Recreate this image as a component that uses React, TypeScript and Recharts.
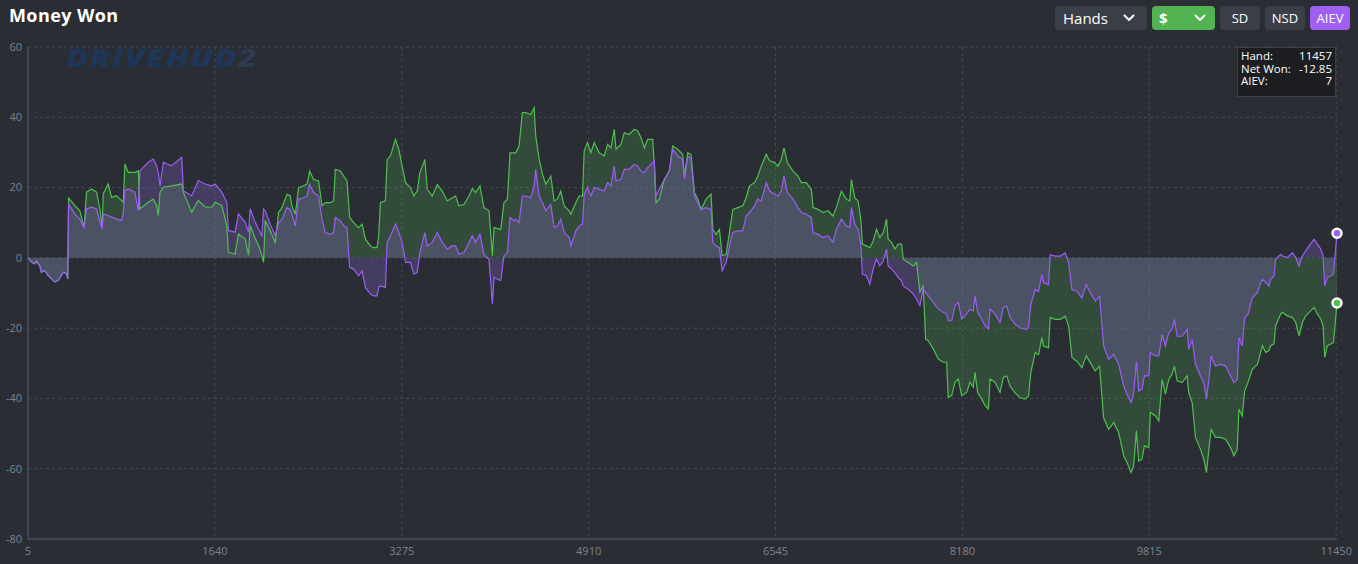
import React from "react";
import { ComposedChart, Area, Line, XAxis, YAxis, CartesianGrid } from "recharts";

// ── Data ─────────────────────────────────────────────────────────────────────

const hands = [
  5, 35, 64, 79, 108, 122, 151, 180, 210, 239,
  268, 298, 312, 342, 353, 360, 414, 458, 496, 517,
  561, 605, 634, 654, 663, 707, 736, 780, 824, 838,
  853, 882, 940, 970, 984, 1057, 1101, 1130, 1145, 1160,
  1189, 1262, 1350, 1364, 1437, 1495, 1554, 1613, 1642, 1700,
  1744, 1758, 1817, 1846, 1905, 1934, 1949, 1993, 2022, 2051,
  2066, 2080, 2124, 2168, 2197, 2227, 2270, 2299, 2314, 2343,
  2372, 2416, 2446, 2469, 2504, 2547, 2577, 2606, 2650, 2679,
  2694, 2738, 2767, 2796, 2819, 2854, 2898, 2928, 2957, 3001,
  3030, 3059, 3073, 3088, 3132, 3147, 3176, 3220, 3249, 3278,
  3308, 3351, 3380, 3410, 3433, 3477, 3498, 3542, 3585, 3629,
  3673, 3717, 3746, 3775, 3819, 3863, 3892, 3921, 3959, 3994,
  4038, 4068, 4082, 4141, 4169, 4199, 4222, 4257, 4272, 4301,
  4330, 4360, 4403, 4433, 4447, 4477, 4506, 4535, 4579, 4608,
  4637, 4666, 4696, 4740, 4754, 4798, 4827, 4856, 4871, 4900,
  4929, 4959, 5002, 5046, 5076, 5105, 5134, 5149, 5192, 5222,
  5265, 5309, 5339, 5368, 5397, 5426, 5470, 5485, 5499, 5528,
  5572, 5616, 5645, 5689, 5733, 5748, 5777, 5806, 5835, 5865,
  5894, 5938, 5981, 5996, 6025, 6054, 6078, 6113, 6142, 6171,
  6215, 6259, 6288, 6317, 6361, 6390, 6420, 6464, 6493, 6537,
  6566, 6595, 6619, 6648, 6698, 6741, 6771, 6814, 6858, 6873,
  6917, 6961, 7004, 7048, 7077, 7121, 7165, 7194, 7209, 7238,
  7267, 7291, 7305, 7340, 7370, 7399, 7428, 7457, 7487, 7516,
  7530, 7560, 7589, 7618, 7647, 7662, 7706, 7750, 7779, 7808,
  7837, 7858, 7881, 7925, 7969, 8012, 8042, 8056, 8086, 8115,
  8144, 8173, 8217, 8246, 8275, 8290, 8313, 8348, 8378, 8407,
  8422, 8465, 8509, 8538, 8568, 8597, 8641, 8685, 8729, 8758,
  8778, 8816, 8846, 8875, 8889, 8933, 8948, 8992, 9036, 9079,
  9109, 9138, 9182, 9225, 9263, 9299, 9342, 9380, 9415, 9459,
  9503, 9547, 9591, 9620, 9655, 9678, 9702, 9722, 9751, 9772,
  9810, 9824, 9868, 9898, 9927, 9956, 9985, 10014, 10035, 10058,
  10102, 10146, 10160, 10190, 10219, 10263, 10292, 10315, 10336, 10356,
  10394, 10438, 10482, 10526, 10555, 10584, 10599, 10628, 10649, 10678,
  10716, 10760, 10774, 10804, 10833, 10862, 10877, 10906, 10920, 10964,
  10979, 11023, 11067, 11096, 11125, 11154, 11183, 11213, 11256, 11286,
  11315, 11335, 11350, 11373, 11403, 11426, 11457,
];

// Net Won ($) – green
const netWon = [
  0, -1.2, -1.7, -1.0, -2.2, -4.1, -3.6, -5.0, -6.0, -6.9,
  -6.4, -5.0, -4.1, -4.5, -6.0, 17.0, 14.9, 13.4, 8.7, 18.7,
  19.6, 18.7, 13.9, 8.7, 18.2, 21.0, 17.2, 17.7, 16.3, 15.8,
  26.7, 24.3, 24.3, 24.8, 13.9, 15.8, 16.7, 14.9, 12.0, 18.7,
  20.1, 20.5, 21.0, 18.7, 13.0, 16.3, 14.5, 14.4, 15.8, 14.9,
  9.2, 1.6, 1.1, 6.8, 5.4, 0.7, 9.2, 5.4, 3.5, 0.7,
  -1.3, 10.6, 7.7, 4.4, 12.9, 14.3, 18.1, 17.6, 14.8, 12.4,
  20.0, 20.5, 21.0, 24.7, 22.3, 21.9, 14.8, 15.7, 15.7, 16.2,
  25.2, 24.7, 23.3, 21.9, 11.5, 10.0, 8.6, 9.6, 5.3, 3.4,
  2.9, 2.9, 6.3, 15.7, 16.2, 28.0, 29.0, 33.7, 30.9, 26.1,
  21.4, 20.0, 17.6, 19.0, 24.2, 28.0, 19.5, 17.6, 20.9, 19.0,
  16.2, 17.1, 17.6, 14.8, 15.2, 17.6, 19.7, 18.6, 20.5, 14.3,
  13.4, 0.6, 8.6, 8.1, 15.7, 16.7, 29.9, 29.9, 29.9, 31.8,
  41.3, 41.3, 40.8, 42.7, 34.7, 28.0, 23.8, 20.9, 23.3, 16.2,
  16.7, 19.0, 14.8, 13.4, 12.4, 15.7, 17.6, 17.6, 30.4, 32.8,
  29.9, 32.8, 29.9, 29.0, 32.3, 31.3, 36.6, 30.9, 32.3, 35.6,
  35.1, 36.6, 36.1, 34.2, 31.3, 33.7, 33.7, 26.1, 15.7, 16.7,
  22.3, 24.7, 31.8, 30.9, 29.4, 23.3, 29.9, 29.4, 18.6, 16.7,
  13.8, 16.7, 18.1, 8.1, 6.7, 8.1, 0.6, 1.0, 7.2, 13.8,
  14.3, 14.8, 17.1, 20.5, 21.4, 23.3, 26.1, 29.5, 27.6, 27.1,
  26.1, 28.0, 31.3, 27.1, 24.7, 23.3, 21.4, 21.4, 19.5, 14.3,
  13.8, 12.9, 13.4, 11.9, 14.3, 19.0, 16.7, 16.2, 22.3, 17.1,
  16.2, 11.0, 3.9, 3.4, 2.9, 4.8, 8.1, 5.8, 7.2, 11.0,
  5.3, 4.4, 2.5, 3.9, 3.9, -0.4, -1.3, -2.3, -1.3, -9.8,
  -8.0, -23.1, -23.6, -25.9, -28.8, -29.7, -29.7, -39.7, -39.2, -35.4,
  -34.5, -39.2, -38.3, -35.4, -36.8, -32.6, -38.3, -40.2, -42.0, -43.0,
  -34.5, -35.4, -38.3, -34.0, -33.6, -36.5, -38.4, -39.8, -40.2, -39.3,
  -32.7, -27.0, -27.5, -22.7, -25.1, -25.6, -17.0, -17.5, -17.5, -16.6,
  -19.4, -28.4, -29.4, -31.3, -27.9, -29.8, -32.2, -30.8, -45.5, -48.8,
  -46.9, -49.7, -56.3, -58.2, -61.1, -59.2, -49.2, -57.8, -57.3, -53.5,
  -54.0, -44.0, -45.0, -46.4, -34.6, -38.8, -34.6, -33.1, -30.8, -35.0,
  -35.5, -33.6, -38.4, -41.2, -51.1, -54.5, -57.3, -61.1, -54.5, -48.8,
  -51.1, -51.1, -51.6, -54.0, -56.3, -54.5, -43.1, -45.0, -37.9, -35.5,
  -31.7, -30.3, -28.8, -25.0, -26.9, -26.4, -25.0, -24.5, -19.3, -16.0,
  -15.5, -16.5, -17.0, -18.4, -22.2, -18.4, -16.5, -15.5, -14.1, -16.0,
  -17.4, -19.3, -28.3, -25.0, -24.5, -24.1, -12.85,
];

// All-in EV – purple
const aiev = [
  0, -1.2, -1.7, -1.0, -2.2, -4.1, -3.6, -5.0, -6.0, -6.9,
  -6.4, -5.0, -4.1, -4.5, -6.0, 15.3, 12.5, 11.0, 8.7, 13.9,
  14.4, 13.9, 10.1, 8.2, 12.5, 12.0, 11.6, 11.1, 10.6, 12.5,
  19.1, 19.6, 18.7, 13.4, 24.8, 27.2, 28.1, 26.2, 24.3, 20.5,
  27.2, 26.2, 28.6, 19.1, 17.7, 22.0, 21.0, 20.5, 21.0, 18.7,
  15.8, 7.8, 7.3, 12.5, 10.1, 7.3, 13.9, 10.1, 8.2, 6.3,
  13.9, 13.4, 9.6, 6.3, 10.0, 11.0, 14.3, 13.8, 12.4, 9.1,
  16.7, 17.1, 17.6, 20.9, 18.6, 17.6, 11.0, 7.2, 6.7, 7.2,
  11.5, 10.5, 9.1, 8.6, -2.7, -3.2, -5.1, -3.7, -8.4, -10.3,
  -10.8, -10.8, -8.4, -8.0, -8.4, 4.4, 6.3, 9.6, 7.2, 4.4,
  -1.3, -1.3, -4.6, -4.2, 1.5, 7.2, 3.4, 4.4, 7.2, 4.4,
  2.5, 3.4, 3.4, 1.0, 1.5, 4.4, 6.3, 4.4, 6.7, 1.0,
  -0.4, -13.2, -5.6, -6.5, 0.6, 1.5, 11.5, 10.5, 11.0, 10.0,
  17.6, 17.6, 17.1, 20.5, 25.2, 17.6, 15.7, 13.4, 15.2, 8.6,
  9.1, 11.0, 7.2, 5.8, 3.4, 7.7, 9.1, 9.6, 18.1, 20.0,
  17.6, 20.0, 19.5, 19.0, 21.4, 20.5, 26.1, 21.9, 22.3, 25.2,
  25.2, 26.6, 26.1, 24.7, 24.2, 25.7, 27.1, 27.6, 17.6, 19.5,
  22.3, 24.7, 30.9, 29.0, 28.0, 22.3, 29.0, 28.0, 17.6, 15.7,
  13.8, 14.3, 13.8, 4.4, 3.4, 2.9, -3.7, -1.3, 3.4, 7.2,
  7.7, 7.7, 11.9, 12.9, 14.8, 16.7, 16.2, 21.4, 19.0, 18.1,
  17.6, 19.0, 23.3, 18.6, 16.7, 14.3, 12.9, 12.4, 11.5, 7.2,
  6.7, 5.8, 6.3, 4.4, 8.1, 11.0, 9.1, 8.6, 14.3, 9.6,
  8.1, 3.9, -4.6, -5.1, -7.5, -3.2, -0.4, -2.3, -0.9, 2.5,
  -2.3, -3.2, -4.2, -5.6, -6.5, -8.0, -8.9, -10.3, -11.7, -13.6,
  -8.9, -9.8, -10.8, -12.7, -14.6, -15.5, -16.0, -17.9, -17.9, -13.6,
  -12.7, -17.4, -16.0, -14.6, -15.1, -10.8, -15.5, -17.4, -19.3, -20.3,
  -14.6, -16.0, -18.4, -14.1, -13.7, -17.0, -18.9, -19.9, -20.4, -19.9,
  -13.3, -9.0, -9.5, -4.7, -7.1, -7.6, 0.9, 0.5, 0.5, 1.4,
  -1.4, -9.0, -9.5, -11.4, -7.6, -9.9, -12.3, -10.9, -25.1, -28.9,
  -27.5, -30.3, -36.5, -38.8, -41.2, -38.8, -29.4, -37.9, -37.4, -33.6,
  -33.6, -27.0, -27.9, -27.9, -21.8, -25.1, -21.3, -20.4, -17.5, -22.3,
  -22.3, -20.4, -26.0, -23.2, -30.3, -33.6, -35.5, -40.2, -34.6, -27.9,
  -30.8, -30.3, -30.8, -33.6, -35.5, -34.6, -22.7, -25.1, -17.0, -16.1,
  -11.4, -9.9, -8.4, -6.1, -7.0, -8.0, -6.1, -5.1, -0.4, 1.0,
  0.6, 0.1, 1.5, 0.1, -2.3, 0.6, 2.0, 3.4, 5.3, 3.9,
  2.5, 0.6, -8.0, -5.6, -5.1, -4.6, 7,
];

const xTicks = [5, 1640, 3275, 4910, 6545, 8180, 9815, 11450];
const yTicks = [-80, -60, -40, -20, 0, 20, 40, 60];

// ── Styles ───────────────────────────────────────────────────────────────────

const BG = "#2a2d33";
const GREEN = "#4fc04f";
const PURPLE = "#9d5cf5";
const FONT = "'Open Sans', 'Noto Sans', sans-serif";

const data = hands.map((h, i) => ({ hand: h, net: netWon[i], aiev: aiev[i] }));
const lastIdx = hands.length - 1;

function endDot(color: string) {
  return (props: { cx?: number; cy?: number; index?: number }) => {
    if (props.index !== lastIdx) return <g key={`d-${props.index}`} />;
    return (
      <circle key={`d-${props.index}`} cx={props.cx} cy={props.cy} r={4.5}
        fill={color} stroke="#ffffff" strokeWidth={2.5} />
    );
  };
}

function Chevron({ x }: { x: number }) {
  return (
    <svg width={12} height={8} style={{ position: "absolute", left: x, top: 8 }}>
      <polyline points="1.5,1.5 6,6 10.5,1.5" fill="none" stroke="#fff" strokeWidth={2} strokeLinecap="round" strokeLinejoin="round" />
    </svg>
  );
}

const btn: React.CSSProperties = {
  position: "absolute", top: 6, height: 24, borderRadius: 4, background: "#3a3e46",
  color: "#fff", fontSize: 13, lineHeight: "24px", textAlign: "center", boxSizing: "border-box",
};

// ── Component ────────────────────────────────────────────────────────────────

export default function App() {
  return (
    <div style={{ position: "fixed", left: 0, top: 0, width: 1358, height: 564, background: BG, fontFamily: FONT, overflow: "hidden" }}>
      <div style={{ position: "absolute", left: 9, top: 3, fontSize: 18, fontWeight: 700, color: "#fff", letterSpacing: 0.4 }}>
        Money Won
      </div>

      {/* toolbar */}
      <div style={{ ...btn, left: 1055, width: 92, textAlign: "left", paddingLeft: 8, fontSize: 15, fontWeight: 500 }}>
        Hands
        <Chevron x={68} />
      </div>
      <div style={{ ...btn, left: 1152, width: 63, background: "#52b352", textAlign: "left", paddingLeft: 7, fontSize: 15, fontWeight: 700 }}>
        $
        <Chevron x={42} />
      </div>
      <div style={{ ...btn, left: 1220, width: 40 }}>SD</div>
      <div style={{ ...btn, left: 1265, width: 40 }}>NSD</div>
      <div style={{ ...btn, left: 1310, width: 40, background: "#9f5ff3" }}>AIEV</div>

      {/* watermark */}
      <div style={{ position: "absolute", left: 66, top: 40, fontSize: 25, fontWeight: 900, fontStyle: "italic", letterSpacing: 1, color: "#1e3758", transform: "scaleX(1.3)", transformOrigin: "left center" }}>
        DRIVEHUD<span style={{ color: "#2e3b50" }}>2</span>
      </div>

      <div style={{ position: "absolute", left: 0, top: 0 }}>
        <ComposedChart width={1358} height={564} data={data} margin={{ top: 47, right: 21, left: 0, bottom: 0 }}>
          <CartesianGrid stroke="#454952" strokeDasharray="3 3" horizontalValues={yTicks} verticalValues={xTicks} />
          <XAxis
            dataKey="hand" type="number" domain={[5, 11457]} ticks={xTicks} interval={0}
            height={25} tickLine={false} stroke="#50566e"
            tick={{ fontSize: 11, fill: "#7c8494", fontFamily: FONT }}
          />
          <YAxis
            type="number" domain={[-80, 60]} ticks={yTicks} interval={0} width={28}
            tickLine={false} tickSize={4} tickMargin={2} stroke="#50566e"
            tick={{ fontSize: 11, fill: "#7c8494", fontFamily: FONT }}
          />
          <Area dataKey="net" type="linear" baseValue={0} stroke="none" fill="#5bc25a" fillOpacity={0.2} activeDot={false} isAnimationActive={false} />
          <Area dataKey="aiev" type="linear" baseValue={0} stroke="none" fill="#8164c6" fillOpacity={0.3} activeDot={false} isAnimationActive={false} />
          <Line dataKey="net" type="linear" stroke={GREEN} strokeWidth={1.2} dot={endDot(GREEN)} activeDot={false} isAnimationActive={false} />
          <Line dataKey="aiev" type="linear" stroke={PURPLE} strokeWidth={1.2} dot={endDot(PURPLE)} activeDot={false} isAnimationActive={false} />
        </ComposedChart>
      </div>

      {/* last-hand readout */}
      <div style={{ position: "absolute", left: 1237, top: 47, width: 99, height: 50, boxSizing: "border-box", background: "#1c1e22", border: "1px solid #3d4047", padding: "2px 3px", color: "#fff", fontSize: 11.5, lineHeight: "12.7px" }}>
        {[["Hand:", hands[lastIdx]], ["Net Won:", netWon[lastIdx]], ["AIEV:", aiev[lastIdx]]].map(([k, v]) => (
          <div key={String(k)} style={{ display: "flex", justifyContent: "space-between" }}>
            <span>{k}</span><span>{v}</span>
          </div>
        ))}
      </div>
    </div>
  );
}
